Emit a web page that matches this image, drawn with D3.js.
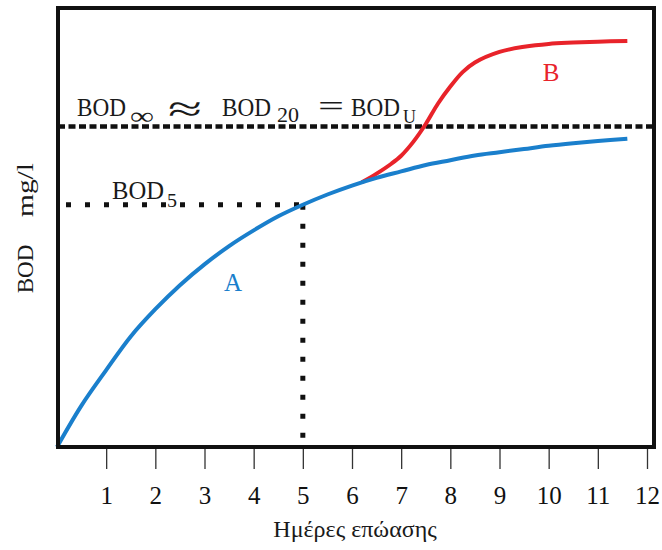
<!DOCTYPE html>
<html>
<head>
<meta charset="utf-8">
<script src="https://cdn.jsdelivr.net/npm/d3@7"></script>
<style>
  body { margin: 0; background: #fff; }
  svg { display: block; }
  text { font-family: "Liberation Serif", "Times New Roman", serif; }
</style>
</head>
<body>
<svg id="drawspace" width="662" height="550"></svg>
<script>
let drawSpace = d3.select("#drawspace");

// incubation days and BOD (as % of BOD ultimate)
let daysA = [0, 0.5, 1, 1.5, 2, 2.5, 3, 3.5, 4, 4.5, 5, 5.5, 6, 6.5, 7, 7.5, 8, 8.5, 9, 9.5, 10, 10.5, 11, 11.6];
let bodA = [0, 13, 24, 34.5, 43, 50.5, 57, 62.7, 67.6, 72, 75.6, 78.8, 81.6, 84, 86, 88, 89.5, 91, 92, 93, 94, 94.8, 95.5, 96.2];

let daysB = [6.2, 6.5, 6.8, 7, 7.25, 7.5, 7.75, 8, 8.25, 8.5, 9, 9.5, 10, 10.5, 11, 11.6];
let bodB = [82.6, 85.3, 88.4, 90.9, 95.3, 100.8, 107.2, 112.5, 117, 120, 123.3, 124.9, 125.8, 126.2, 126.5, 126.7];

let xTicks = [1, 2, 3, 4, 5, 6, 7, 8, 9, 10, 11, 12];
let bodU = 100;
let day5 = 5;
let bod5 = 75.6;

let x = d3.scaleLinear().domain([0, 12]).range([57, 647]);
let y = d3.scaleLinear().domain([0, 137]).range([447, 8]);

let line = d3.line()
  .x(d => x(d[0]))
  .y(d => y(d[1]))
  .curve(d3.curveCatmullRom.alpha(0.5));

// ticks below the frame
let xAxis = d3.axisBottom(x).tickValues(xTicks).tickSize(21).tickPadding(0).tickFormat(d3.format("d"));
let gx = drawSpace.append("g")
  .attr("transform", "translate(0,448)")
  .call(xAxis);
gx.select(".domain").remove();
gx.selectAll(".tick line").attr("stroke", "#333").attr("stroke-width", 1.3);
gx.selectAll(".tick text")
  .attr("y", 56)
  .attr("dy", null)
  .attr("fill", "#111")
  .style("font-family", "Liberation Serif")
  .style("font-size", "25px");

// reference lines
drawSpace.append("line")
  .attr("x1", 58).attr("x2", 654)
  .attr("y1", y(bodU)).attr("y2", y(bodU))
  .attr("stroke", "#111").attr("stroke-width", 4.5)
  .attr("stroke-dasharray", "7 3.5");

drawSpace.append("line")
  .attr("x1", x(0) + 9).attr("x2", x(day5))
  .attr("y1", y(bod5)).attr("y2", y(bod5))
  .attr("stroke", "#111").attr("stroke-width", 5)
  .attr("stroke-dasharray", "5 14");

drawSpace.append("line")
  .attr("x1", x(day5)).attr("x2", x(day5))
  .attr("y1", y(bod5)).attr("y2", y(0))
  .attr("stroke", "#111").attr("stroke-width", 5)
  .attr("stroke-dasharray", "5 14");

// curves
drawSpace.append("path")
  .datum(daysB.map((d, i) => [d, bodB[i]]))
  .attr("d", line)
  .attr("fill", "none")
  .attr("stroke", "#e8232a")
  .attr("stroke-width", 4);

drawSpace.append("path")
  .datum(daysA.map((d, i) => [d, bodA[i]]))
  .attr("d", line)
  .attr("fill", "none")
  .attr("stroke", "#1a7fcc")
  .attr("stroke-width", 4);

// frame
drawSpace.append("rect")
  .attr("x", 58).attr("y", 8)
  .attr("width", 596).attr("height", 439)
  .attr("fill", "none")
  .attr("stroke", "#111")
  .attr("stroke-width", 4);

// labels
function piece(parent, txt, px, py, size, len) {
  let t = parent.append("tspan").attr("x", px).attr("y", py).style("font-size", size + "px").text(txt);
  if (len) t.attr("textLength", len).attr("lengthAdjust", "spacingAndGlyphs");
  return t;
}

let headLabel = drawSpace.append("text").attr("fill", "#1a1a1a");
piece(headLabel, "BOD", 77, 116, 25, 49);
piece(headLabel, "∞", 130, 124, 24, 24);
piece(headLabel, "≈", 168, 121, 36, 34);
piece(headLabel, "BOD", 222, 116, 25, 49);
piece(headLabel, "20", 277, 122, 21, 22);
piece(headLabel, "=", 318, 116, 30, 26);
piece(headLabel, "BOD", 351, 116, 25, 49);
piece(headLabel, "U", 403, 123, 19, 13);

let b5Label = drawSpace.append("text").attr("fill", "#1a1a1a");
piece(b5Label, "BOD", 112, 199, 25, 52);
piece(b5Label, "5", 167, 207, 19, 10);

drawSpace.append("text")
  .attr("x", 233).attr("y", 291)
  .attr("text-anchor", "middle")
  .attr("fill", "#1a7fcc")
  .style("font-size", "25px")
  .text("A");

drawSpace.append("text")
  .attr("x", 551).attr("y", 81)
  .attr("text-anchor", "middle")
  .attr("fill", "#e8232a")
  .style("font-size", "25px")
  .text("B");

drawSpace.append("text")
  .attr("x", 355).attr("y", 537)
  .attr("text-anchor", "middle")
  .attr("fill", "#1a1a1a")
  .style("font-size", "24px")
  .text("Ημέρες επώασης");

drawSpace.append("text")
  .attr("transform", "translate(33,269) rotate(-90)")
  .attr("text-anchor", "middle")
  .attr("fill", "#1a1a1a")
  .style("font-size", "23px")
  .text("BOD");

drawSpace.append("text")
  .attr("transform", "translate(33,190) rotate(-90)")
  .attr("text-anchor", "middle")
  .attr("fill", "#1a1a1a")
  .attr("textLength", 54)
  .attr("lengthAdjust", "spacingAndGlyphs")
  .style("font-size", "24px")
  .text("mg/l");
</script>
</body>
</html>
